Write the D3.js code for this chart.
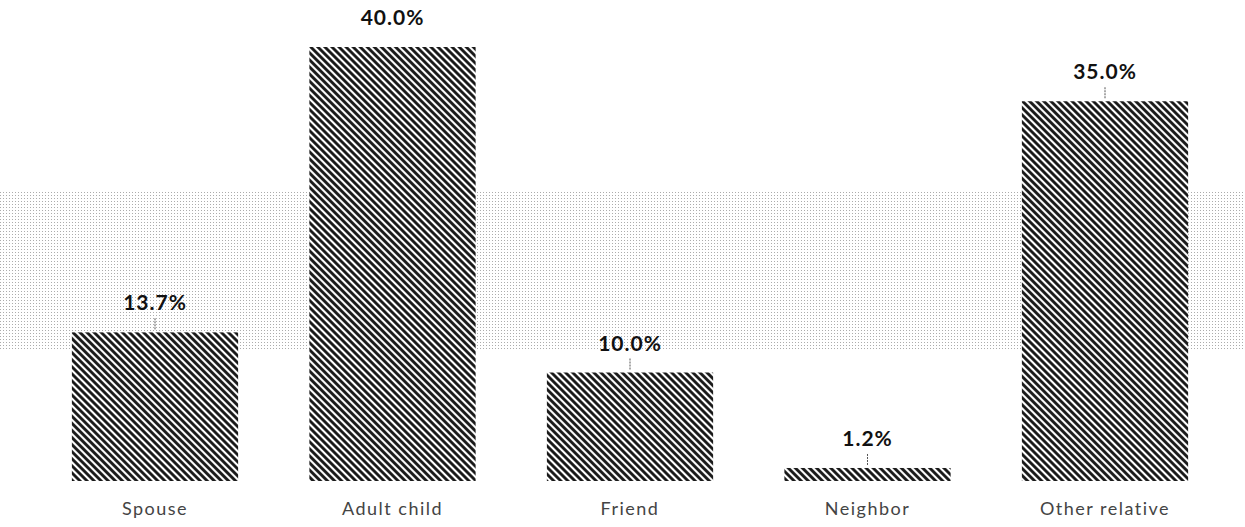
<!DOCTYPE html>
<html>
<head>
<meta charset="utf-8">
<script src="https://cdn.jsdelivr.net/npm/d3@7"></script>
<style>
  html, body { margin: 0; padding: 0; background: #fff; }
  svg { display: block; }
</style>
</head>
<body>
<svg id="chart" width="1245" height="527"></svg>
<script>
// Who provides care: share of respondents by relationship
const categories = ["Spouse", "Adult child", "Friend", "Neighbor", "Other relative"];
const shares = [13.7, 40.0, 10.0, 1.2, 35.0];
const valueLabels = ["13.7%", "40.0%", "10.0%", "1.2%", "35.0%"];

const width = 1245, height = 527;
const baseline = 481;
const svg = d3.select("#chart");

const defs = svg.append("defs");

// diagonal hatch used to fill the bars
const hatch = defs.append("pattern")
  .attr("id", "hatch")
  .attr("patternUnits", "userSpaceOnUse")
  .attr("width", 5).attr("height", 5)
  .attr("patternTransform", "rotate(-45)");
hatch.append("rect").attr("width", 5).attr("height", 5).attr("fill", "#fff");
hatch.append("line")
  .attr("x1", 1.5).attr("y1", 0).attr("x2", 1.5).attr("y2", 5)
  .attr("stroke", "#111").attr("stroke-width", 2.8);

// light stipple tone behind the middle of the plot
const dots = defs.append("pattern")
  .attr("id", "dots")
  .attr("patternUnits", "userSpaceOnUse")
  .attr("width", 3).attr("height", 3);
dots.append("rect").attr("width", 1).attr("height", 1).attr("fill", "#888");

svg.append("rect")
  .attr("x", 0).attr("y", 190).attr("width", width).attr("height", 160)
  .attr("fill", "url(#dots)").attr("opacity", 0.7);

const x = d3.scaleBand()
  .domain(categories)
  .range([36.25, 1223.75])
  .paddingInner(0.3)
  .paddingOuter(0.15);

const y = d3.scaleLinear()
  .domain([0, 40])
  .range([baseline, 47]);

const data = categories.map((c, i) => ({ cat: c, v: shares[i], label: valueLabels[i] }));

svg.append("g").selectAll("rect")
  .data(data)
  .join("rect")
  .attr("x", d => x(d.cat))
  .attr("y", d => y(d.v))
  .attr("width", x.bandwidth())
  .attr("height", d => baseline - y(d.v))
  .attr("fill", "url(#hatch)");

// small leader ticks from value labels down to the bars
svg.append("g").selectAll("line")
  .data(data.filter(d => d.v < 40))
  .join("line")
  .attr("x1", d => x(d.cat) + x.bandwidth() / 2)
  .attr("x2", d => x(d.cat) + x.bandwidth() / 2)
  .attr("y1", d => y(d.v) - 14)
  .attr("y2", d => y(d.v) - 2)
  .attr("stroke", "#555")
  .attr("stroke-width", 1)
  .attr("stroke-dasharray", "2,1");

svg.append("g").selectAll("text")
  .data(data)
  .join("text")
  .attr("x", d => x(d.cat) + x.bandwidth() / 2)
  .attr("y", d => y(d.v) - 22)
  .attr("text-anchor", "middle")
  .attr("font-family", "Lato, 'Open Sans', sans-serif")
  .attr("font-weight", "bold")
  .attr("font-size", 21)
  .attr("letter-spacing", 1)
  .attr("fill", "#111")
  .text(d => d.label);

// category axis, labels only
const xAxis = svg.append("g")
  .attr("transform", `translate(0,${baseline})`)
  .call(d3.axisBottom(x).tickSize(0).tickPadding(21));
xAxis.select(".domain").remove();
xAxis.selectAll("text")
  .attr("font-family", "Lato, 'Open Sans', sans-serif")
  .attr("font-size", 18)
  .attr("letter-spacing", 1.5)
  .attr("fill", "#444");
</script>
</body>
</html>
